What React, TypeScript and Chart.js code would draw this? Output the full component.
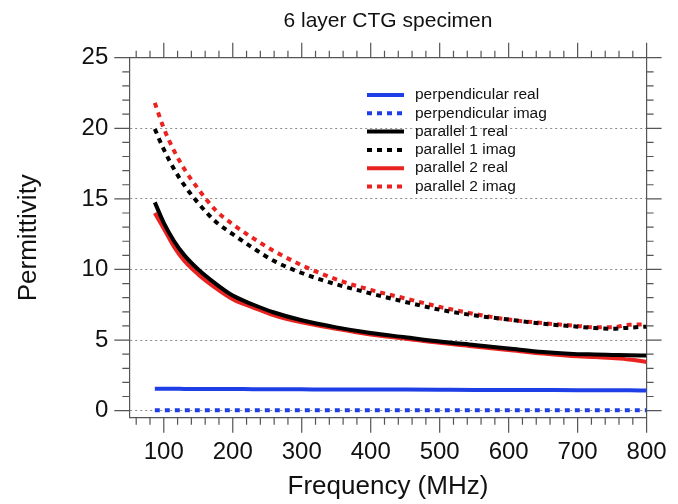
import { useEffect, useRef } from 'react';
import { Chart, registerables } from 'chart.js';

Chart.register(...registerables);

const FONT = "'Liberation Sans', Arial, Helvetica, sans-serif";

const chartTitle = '6 layer CTG specimen';
const xTitle = 'Frequency (MHz)';
const yTitle = 'Permittivity';

const xTickValues = [100, 200, 300, 400, 500, 600, 700, 800];
const yTickValues = [0, 5, 10, 15, 20, 25];

const freqs = [87, 100, 115, 130, 150, 175, 200, 230, 260, 300, 350, 400, 450, 500, 550, 600, 650, 700, 725, 750, 775, 800];

const perpReal = [1.55, 1.55, 1.55, 1.54, 1.54, 1.53, 1.53, 1.52, 1.52, 1.51, 1.5, 1.5, 1.49, 1.48, 1.47, 1.47, 1.46, 1.45, 1.45, 1.44, 1.44, 1.43];
const perpImag = [0.03, 0.03, 0.03, 0.03, 0.03, 0.03, 0.03, 0.03, 0.03, 0.03, 0.03, 0.03, 0.03, 0.03, 0.03, 0.03, 0.03, 0.03, 0.03, 0.03, 0.03, 0.03];
const par1Real = [14.75, 13.3, 12.0, 11.0, 10.0, 9.0, 8.15, 7.5, 6.95, 6.4, 5.9, 5.5, 5.2, 4.9, 4.65, 4.4, 4.15, 4.0, 3.98, 3.95, 3.92, 3.9];
const par1Imag = [19.95, 18.5, 17.1, 15.95, 14.7, 13.4, 12.5, 11.5, 10.6, 9.75, 8.95, 8.3, 7.7, 7.15, 6.75, 6.45, 6.15, 5.95, 5.85, 5.8, 5.88, 5.95];
const par2Real = [14.0, 12.9, 11.6, 10.6, 9.65, 8.7, 7.9, 7.3, 6.75, 6.25, 5.8, 5.4, 5.1, 4.8, 4.55, 4.3, 4.05, 3.85, 3.8, 3.72, 3.62, 3.45];
const par2Imag = [21.8, 20.0, 18.4, 17.1, 15.7, 14.2, 13.2, 12.2, 11.3, 10.3, 9.3, 8.55, 7.95, 7.35, 6.85, 6.45, 6.2, 6.0, 5.9, 5.9, 6.08, 6.1];

const seriesLabels = [
  'perpendicular real',
  'perpendicular imag',
  'parallel 1 real',
  'parallel 1 imag',
  'parallel 2 real',
  'parallel 2 imag',
];
const seriesValues = [perpReal, perpImag, par1Real, par1Imag, par2Real, par2Imag];

const BLUE = '#1f3fe6';
const BLACK = '#000000';
const RED = '#ea2320';
const seriesColors = [BLUE, BLUE, BLACK, BLACK, RED, RED];
const DOT = [5, 5];
const seriesDash = [[], DOT, [], DOT, [], DOT];

const AXIS_COLOR = '#555555';

const zeroPad = (s: any) => {
  s.paddingLeft = 0;
  s.paddingRight = 0;
  s.paddingTop = 0;
  s.paddingBottom = 0;
};

export default function App() {
  const ref = useRef<HTMLCanvasElement>(null);

  useEffect(() => {
    const canvas = ref.current;
    if (!canvas) return;

    const tickPlugin = {
      id: 'tickMarks',
      afterDraw(chart: any) {
        const { ctx, chartArea, scales } = chart;
        const xs = scales.x;
        const ys = scales.y;
        ctx.save();
        ctx.strokeStyle = AXIS_COLOR;
        ctx.lineWidth = 1.2;
        ctx.beginPath();
        for (let v = 60; v <= 800; v += 20) {
          const px = xs.getPixelForValue(v);
          const len = v % 100 === 0 ? 15 : 7;
          ctx.moveTo(px, chartArea.bottom);
          ctx.lineTo(px, chartArea.bottom + len);
          ctx.moveTo(px, chartArea.top);
          ctx.lineTo(px, chartArea.top - len);
        }
        for (let v = 0; v <= 25; v += 1) {
          const py = ys.getPixelForValue(v);
          const len = v % 5 === 0 ? 15 : 7;
          ctx.moveTo(chartArea.left, py);
          ctx.lineTo(chartArea.left - len, py);
          ctx.moveTo(chartArea.right, py);
          ctx.lineTo(chartArea.right + len, py);
        }
        ctx.stroke();
        ctx.restore();
      },
    };

    const legendPlugin = {
      id: 'insideLegend',
      afterDatasetsDraw(chart: any) {
        const { ctx } = chart;
        ctx.save();
        chart.data.datasets.forEach((ds: any, i: number) => {
          const y = 95 + i * 18.3;
          ctx.beginPath();
          ctx.strokeStyle = ds.borderColor;
          ctx.lineWidth = 4;
          ctx.lineCap = 'butt';
          ctx.setLineDash(ds.borderDash || []);
          ctx.moveTo(367, y);
          ctx.lineTo(404, y);
          ctx.stroke();
          ctx.setLineDash([]);
          ctx.fillStyle = '#111';
          ctx.font = `15.5px ${FONT}`;
          ctx.textBaseline = 'middle';
          ctx.textAlign = 'left';
          ctx.fillText(ds.label, 415, y);
        });
        ctx.restore();
      },
    };

    const datasets = seriesValues.map((vals, i) => ({
      label: seriesLabels[i],
      data: freqs.map((f, j) => ({ x: f, y: vals[j] })),
      borderColor: seriesColors[i],
      backgroundColor: seriesColors[i],
      borderWidth: 4,
      borderDash: seriesDash[i],
      borderCapStyle: 'butt' as const,
      pointRadius: 0,
      fill: false,
      cubicInterpolationMode: 'monotone' as const,
    }));

    const chart = new Chart(canvas, {
      type: 'line',
      data: { datasets },
      options: {
        responsive: false,
        animation: false,
        devicePixelRatio: 1,
        layout: { padding: 0, autoPadding: false },
        plugins: {
          legend: { display: false },
          tooltip: { enabled: false },
          title: {
            display: true,
            text: chartTitle,
            fullSize: false,
            color: '#111',
            font: { family: FONT, size: 21, weight: 'normal', lineHeight: 1.2 },
            padding: { top: 9, bottom: 0 },
          },
        },
        scales: {
          x: {
            type: 'linear',
            position: 'bottom',
            min: 50,
            max: 800,
            afterBuildTicks: (s: any) => {
              s.ticks = xTickValues.map((v) => ({ value: v }));
            },
            afterFit: (s: any) => {
              s.height = 86.3;
              zeroPad(s);
            },
            grid: { display: false, drawTicks: false },
            border: { display: true, color: AXIS_COLOR, width: 1.2 },
            ticks: {
              color: '#111',
              padding: 20,
              maxRotation: 0,
              autoSkip: false,
              font: { family: FONT, size: 24 },
              callback: (v: any) => String(v),
            },
            title: {
              display: true,
              text: xTitle,
              color: '#111',
              font: { family: FONT, size: 26 },
              padding: { top: 0, bottom: 2 },
            },
          },
          x2: {
            type: 'linear',
            position: 'top',
            min: 50,
            max: 800,
            afterFit: (s: any) => {
              s.height = 57.7 - 34.2;
              zeroPad(s);
            },
            grid: { display: false, drawTicks: false },
            border: { display: true, color: AXIS_COLOR, width: 1.2 },
            ticks: { display: false },
          },
          y: {
            type: 'linear',
            position: 'left',
            min: -0.5,
            max: 25,
            afterBuildTicks: (s: any) => {
              s.ticks = yTickValues.map((v) => ({ value: v }));
            },
            afterFit: (s: any) => {
              s.width = 129.3;
              zeroPad(s);
            },
            grid: {
              display: true,
              drawTicks: false,
              color: (c: any) => (c.tick && c.tick.value === 25 ? 'rgba(0,0,0,0)' : '#8a8a8a'),
              lineWidth: 1,
            },
            border: { display: true, color: AXIS_COLOR, width: 1.2, dash: [2, 3] },
            ticks: {
              color: '#111',
              padding: 21,
              autoSkip: false,
              font: { family: FONT, size: 24 },
              callback: (v: any) => String(v),
            },
            title: {
              display: true,
              text: yTitle,
              color: '#111',
              font: { family: FONT, size: 26 },
              padding: { top: 13, bottom: 0 },
            },
          },
          y2: {
            type: 'linear',
            position: 'right',
            min: -0.5,
            max: 25,
            afterFit: (s: any) => {
              s.width = 678 - 646.6;
              zeroPad(s);
            },
            grid: { display: false, drawTicks: false },
            border: { display: true, color: AXIS_COLOR, width: 1.2 },
            ticks: { display: false },
          },
        },
      } as any,
      plugins: [tickPlugin, legendPlugin],
    });

    return () => {
      chart.destroy();
    };
  }, []);

  return (
    <div style={{ position: 'absolute', left: 0, top: 0, width: 678, height: 504, background: '#fff' }}>
      <canvas ref={ref} width={678} height={504} style={{ display: 'block' }} />
    </div>
  );
}
